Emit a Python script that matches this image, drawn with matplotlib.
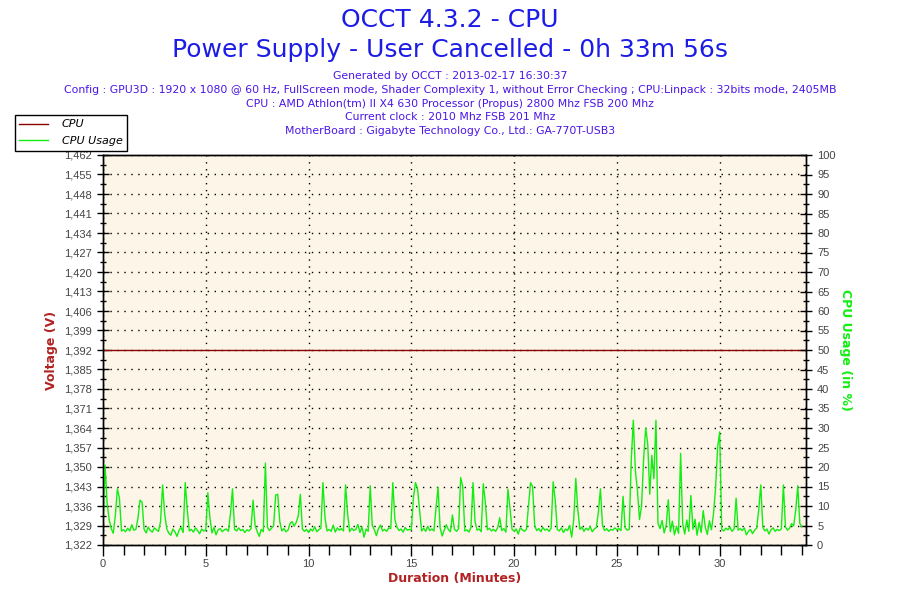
import numpy as np
import matplotlib
matplotlib.use('Agg')
import matplotlib.pyplot as plt
from matplotlib.ticker import MultipleLocator, FixedLocator, FuncFormatter

# ---- data ----
sample_step_min = 0.1  # one reading every 6 s (resampled)

# CPU usage (%), 10 readings per minute, minute 0 .. 33 plus final point
cpu_usage = [
    3.8, 20.5, 10.8, 6.5, 4.2, 3.0, 7.5, 14.4, 12.0, 3.6,
    3.9, 3.4, 4.3, 3.6, 5.2, 3.8, 4.0, 6.8, 11.5, 11.0,
    4.0, 3.1, 4.6, 3.7, 3.3, 4.4, 3.9, 3.5, 6.0, 15.4,
    8.0, 4.2, 3.0, 2.5, 4.1, 3.4, 2.2, 3.8, 4.5, 3.2,
    16.0, 9.0, 3.6, 4.0, 3.3, 4.4, 3.7, 2.9, 4.1, 3.6,
    3.8, 13.4, 7.0, 3.1, 4.5, 2.6, 3.9, 4.2, 3.4, 3.9,
    4.1, 3.5, 8.0, 14.4, 4.0, 3.6, 4.4, 3.7, 4.0, 3.2,
    3.9, 3.6, 4.2, 11.5, 5.0, 3.5, 2.2, 4.0, 3.4, 21.0,
    4.5, 3.7, 4.3, 5.0, 12.8, 13.0, 6.0, 3.6, 4.2, 3.4,
    3.8, 5.5, 6.0, 4.8, 5.8, 7.5, 13.0, 4.1, 3.5, 4.0,
    3.2, 4.1, 3.6, 4.7, 3.4, 3.9, 4.3, 16.0, 7.0, 3.6,
    4.0, 3.5, 5.1, 3.3, 4.4, 3.8, 4.2, 3.6, 15.4, 8.0,
    3.4, 4.3, 3.7, 4.0, 5.3, 3.2, 4.6, 2.0, 4.1, 3.5,
    15.2, 5.0, 3.9, 2.4, 4.2, 5.1, 3.6, 4.0, 3.5, 4.4,
    4.2, 16.0, 6.5, 4.6, 3.7, 4.1, 3.3, 4.5, 3.8, 4.0,
    3.9, 12.0, 16.0, 14.5, 9.0, 3.6, 4.3, 3.5, 4.8, 3.7,
    4.1, 3.6, 9.5, 14.8, 4.4, 2.3, 3.8, 5.2, 4.0, 3.4,
    7.7, 4.0, 3.5, 4.2, 17.3, 15.0, 3.6, 3.9, 3.3, 4.5,
    16.0, 6.0, 3.8, 4.1, 3.4, 15.7, 11.0, 3.9, 4.3, 3.6,
    4.0, 3.5, 4.4, 7.0, 3.7, 4.2, 3.3, 14.3, 9.5, 4.0,
    3.6, 4.1, 2.8, 4.4, 3.9, 3.5, 4.0, 10.0, 16.0, 15.0,
    5.0, 3.7, 4.2, 3.4, 4.5, 3.8, 4.1, 3.5, 4.3, 16.2,
    11.5, 4.0, 3.6, 4.4, 3.2, 4.1, 3.7, 5.0, 2.0, 6.5,
    17.1, 9.0, 4.0, 4.6, 3.5, 4.3, 3.8, 4.7, 3.4, 4.1,
    4.5, 8.5, 14.4, 5.0, 3.7, 4.2, 3.5, 4.0, 3.8, 4.4,
    3.9, 4.2, 3.7, 12.5, 4.4, 3.8, 4.0, 22.0, 32.0, 19.0,
    14.0, 6.5, 10.0, 22.0, 30.0, 26.0, 13.0, 23.0, 17.0, 32.0,
    5.5, 4.2, 6.3, 3.1, 5.0, 11.6, 3.4, 6.1, 2.6, 4.8,
    3.0, 23.5, 5.5, 2.8, 6.4, 3.5, 12.7, 4.0, 6.6, 2.5,
    5.8, 3.2, 8.8, 4.6, 2.7, 6.2, 3.9, 8.0, 14.5, 25.0,
    29.0, 4.0, 3.6, 4.3, 3.9, 4.6, 3.5, 4.1, 12.0, 3.8,
    4.2, 3.7, 4.4, 2.6, 3.5, 4.0, 2.9, 3.8, 4.3, 9.0,
    15.4, 4.5, 3.6, 4.1, 2.8, 3.9, 4.4, 3.5, 4.0, 3.7,
    4.1, 15.4, 4.6, 3.8, 4.3, 5.5, 4.9, 9.0, 15.2, 5.5,
    4.7,
]
usage_time = np.arange(len(cpu_usage)) * sample_step_min

# CPU voltage stayed flat for the whole run
volt_time = [0.0, 34.2]
cpu_voltage = [1.392, 1.392]

title_lines = ['OCCT 4.3.2 - CPU', 'Power Supply - User Cancelled - 0h 33m 56s']
info_lines = [
    'Generated by OCCT : 2013-02-17 16:30:37',
    'Config : GPU3D : 1920 x 1080 @ 60 Hz, FullScreen mode, Shader Complexity 1, '
    'without Error Checking ; CPU:Linpack : 32bits mode, 2405MB',
    'CPU : AMD Athlon(tm) II X4 630 Processor (Propus) 2800 Mhz FSB 200 Mhz',
    'Current clock : 2010 Mhz FSB 201 Mhz',
    'MotherBoard : Gigabyte Technology Co., Ltd.: GA-770T-USB3',
]

# ---- colours ----
red = '#8b0000'
label_red = '#b22222'
green = '#11ee11'
title_blue = '#1c1ce6'
info_blue = '#4a14e6'
bg = '#fdf6e8'
tick_col = '#444444'

fig = plt.figure(figsize=(9, 6), dpi=100)
ax1 = fig.add_axes([103 / 900, 1 - 545 / 600, 703 / 900, 390 / 600])
ax1.set_facecolor(bg)
ax2 = ax1.twinx()

ax1.plot(volt_time, cpu_voltage, color=red, linewidth=1, label='CPU', zorder=3)
ax2.plot(usage_time, cpu_usage, color=green, linewidth=1, label='CPU Usage')

ax1.set_xlim(0, 34.2)
ax1.set_ylim(1.322, 1.462)
ax2.set_ylim(0, 100)

ax1.xaxis.set_major_locator(MultipleLocator(5))
ax1.xaxis.set_minor_locator(MultipleLocator(1))
ax1.yaxis.set_major_locator(FixedLocator(np.linspace(1.322, 1.462, 21)))
ax1.yaxis.set_minor_locator(FixedLocator(np.linspace(1.322, 1.462, 41)))
ax1.yaxis.set_major_formatter(FuncFormatter(lambda v, p: f'{v:.3f}'.replace('.', ',')))
ax2.yaxis.set_major_locator(MultipleLocator(5))
ax2.yaxis.set_minor_locator(MultipleLocator(2.5))

tick_font = 'Liberation Sans'
for ax in (ax1, ax2):
    ax.tick_params(axis='both', which='major', direction='inout', length=9, width=1,
                   colors='black', labelcolor=tick_col, labelsize=8)
    ax.tick_params(axis='both', which='minor', direction='inout', length=5, width=1, colors='black')
    for lab in ax.get_xticklabels() + ax.get_yticklabels():
        lab.set_fontfamily(tick_font)
    for sp in ax.spines.values():
        sp.set_color('black')
        sp.set_linewidth(1)
ax1.tick_params(axis='x', which='both', direction='out')
ax1.tick_params(axis='x', which='major', length=8, pad=2)
ax1.tick_params(axis='x', which='minor', length=7)

ax1.grid(True, which='major', color='black', linestyle=(0, (1, 4)), linewidth=1)
ax1.set_axisbelow(True)

lab_font = dict(family='DejaVu Sans', fontsize=9, fontweight='bold')
ax1.set_ylabel('Voltage (V)', color=label_red, labelpad=4, **lab_font)
ax1.set_xlabel('Duration (Minutes)', color=label_red, labelpad=2, **lab_font)
ax2.set_ylabel('CPU Usage (in %)', color=green, rotation=-90, labelpad=12, **lab_font)

fig.text(0.5, 1 - 20 / 600, title_lines[0], ha='center', va='center',
         color=title_blue, fontsize=18, family='DejaVu Sans')
fig.text(0.5, 1 - 50 / 600, title_lines[1], ha='center', va='center',
         color=title_blue, fontsize=18, family='DejaVu Sans')
for i, line in enumerate(info_lines):
    fig.text(0.5, 1 - (76 + i * 13.8) / 600, line, ha='center', va='center',
             color=info_blue, fontsize=7.8, family='DejaVu Sans')

h1, l1 = ax1.get_legend_handles_labels()
h2, l2 = ax2.get_legend_handles_labels()
leg = fig.legend(h1 + h2, l1 + l2, loc='upper left', bbox_to_anchor=(15 / 900, 1 - 115 / 600),
                 borderaxespad=0, frameon=True, fancybox=False, shadow=False, borderpad=0.4,
                 handlelength=2.6, handletextpad=1.2, labelspacing=0.6,
                 prop=dict(family='DejaVu Sans', style='italic', size=8))
leg.get_frame().set_edgecolor('black')
leg.get_frame().set_linewidth(1)
leg.get_frame().set_alpha(1)
leg.set_zorder(10)

fig.savefig('out.png', dpi=100, facecolor='white')
